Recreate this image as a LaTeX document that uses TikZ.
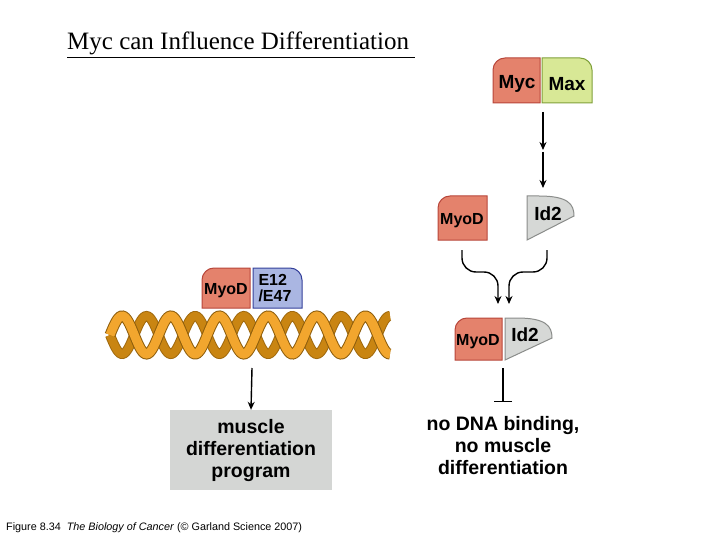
\documentclass[tikz,border=0pt]{standalone}
\usepackage{fontspec}
\setmainfont{Liberation Serif}
\setsansfont{Liberation Sans}
\usetikzlibrary{arrows.meta,positioning}
\definecolor{myod}{HTML}{E4826C}
\definecolor{myodline}{HTML}{B8463A}
\definecolor{maxc}{HTML}{D8E896}
\definecolor{maxline}{HTML}{7FA03A}
\definecolor{idc}{HTML}{D6D8D6}
\definecolor{idline}{HTML}{8A8C8A}
\definecolor{ec}{HTML}{AAB6E2}
\definecolor{ecline}{HTML}{34409A}
\definecolor{dnaback}{HTML}{C98512}
\definecolor{dnafront}{HTML}{F2A62E}
\definecolor{boxc}{HTML}{D4D6D4}
\newcommand{\protl}[5]{\draw[#5] (#1,#4) [rounded corners=12] -- (#1,#2) [sharp corners] -- (#3,#2) -- (#3,#4) -- cycle;}
\newcommand{\protr}[5]{\draw[#5] (#1,#4) -- (#1,#2) [rounded corners=12] -- (#3,#2) [sharp corners] -- (#3,#4) -- cycle;}
\newcommand{\idshape}[4]{\draw[fill=idc,draw=idline,line width=1pt] (#1,#4) -- (#1,#2) -- ({#1+12},#2) .. controls ({#3-6},#2) and (#3,{#2+8}) .. (#3,{#2+20}) -- cycle;}
\tikzset{
  lbl/.style={font=\sffamily\bfseries\fontsize{19}{19}\selectfont},
  sml/.style={font=\sffamily\bfseries\fontsize{16}{16}\selectfont},
  big/.style={font=\sffamily\bfseries\fontsize{19.5}{22}\selectfont,align=center},
  arr/.style={-{Stealth[length=8pt,width=7pt]},line width=1.4pt},
}
\begin{document}
\begin{tikzpicture}[x=1pt,y=-1pt]
\useasboundingbox (0,0) rectangle (720,540);
% title and caption
\node[anchor=base west,inner sep=0,font=\fontsize{25}{25}\selectfont] (title) at (67,50) {\underline{Myc can Influence Differentiation\ }};
\node[anchor=base west,inner sep=0,font=\sffamily\fontsize{10.8}{12}\selectfont] (cap) at (6,530) {Figure 8.34\ \ \textit{The Biology of Cancer} (\copyright\ Garland Science 2007)};
% DNA helix
\draw[dnaback!80!black,line width=10pt,domain=110:390,samples=200] plot (\x,{335-19*sin((\x-110)*7.4+180)});
\draw[dnaback,line width=8pt,domain=110:390,samples=200] plot (\x,{335-19*sin((\x-110)*7.4+180)});
\draw[dnaback!70!black,line width=11pt,domain=110:390,samples=200] plot (\x,{335-19*sin((\x-110)*7.4)});
\draw[dnafront,line width=9pt,domain=110:390,samples=200] plot (\x,{335-19*sin((\x-110)*7.4)});
% left complex
\protl{202}{268}{250}{308}{fill=myod,draw=myodline,line width=1pt}
\protr{253}{268}{302}{308}{fill=ec,draw=ecline,line width=1pt}
\node[sml] (myodL) at (226,291) {MyoD};
\node[sml,align=left] (e12) at (275,288) {E12\\/E47};
\coordinate (dna) at (252,368);
\node[fill=boxc,minimum width=162,minimum height=80,big] (prog) at (251,450) {muscle\\differentiation\\program};
\draw[arr] (dna) -- (prog.north);
% right pathway
\protl{493}{58}{540}{103}{fill=myod,draw=myodline,line width=1pt}
\protr{542}{58}{592}{103}{fill=maxc,draw=maxline,line width=1pt}
\node[lbl] (myc) at (517,84) {Myc};
\node[lbl] (max) at (567,84) {Max};
\coordinate (a1) at (543,112);
\coordinate (a2) at (543,150);
\coordinate (a3) at (543,152);
\coordinate (a4) at (543,188);
\draw[arr] (a1) -- (a2);
\draw[arr] (a3) -- (a4);
\protl{438}{196}{487}{240}{fill=myod,draw=myodline,line width=1pt}
\idshape{527}{196}{574}{240}
\node[sml] (myodM) at (462,221) {MyoD};
\node[lbl] (id2) at (548,214) {Id2};
\coordinate (c1) at (462,250);
\coordinate (c2) at (547,250);
\coordinate (c3) at (498,304);
\coordinate (c4) at (509,304);
\draw[arr,rounded corners=14] (c1) -- (462,272) -- (498,272) -- (c3);
\draw[arr,rounded corners=14] (c2) -- (547,272) -- (509,272) -- (c4);
\protl{455}{318}{502}{360}{fill=myod,draw=myodline,line width=1pt}
\idshape{505}{318}{552}{360}
\node[sml] (myodR) at (478,342) {MyoD};
\node[lbl] (id2b) at (525,335) {Id2};
\coordinate (b1) at (503,368);
\node[big,anchor=north] (nobind) at (503,413) {no DNA binding,\\no muscle\\differentiation};
\draw[line width=1.4pt,-{Bar[width=18pt]}] (b1) -- (503,402);
\end{tikzpicture}
\end{document}
